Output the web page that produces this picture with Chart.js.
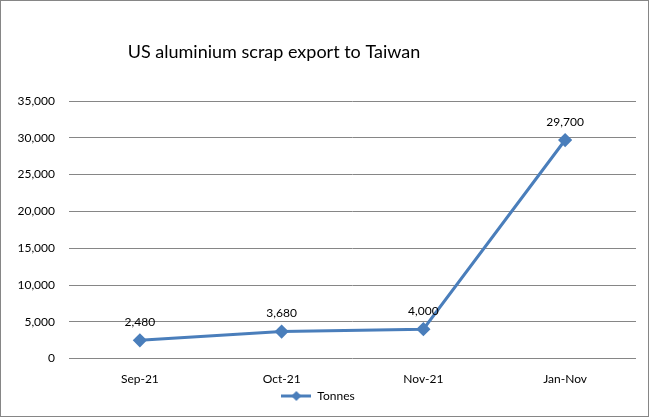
<!DOCTYPE html>
<html><head><meta charset="utf-8">
<script src="https://cdn.jsdelivr.net/npm/chart.js@4"></script>
<style>html,body{margin:0;padding:0;background:#fff}#wrap{width:649px;height:417px;position:relative}</style>
</head><body><div id="wrap"><canvas id="c" width="649" height="417"></canvas></div>
<script>
const categories = ["Sep-21", "Oct-21", "Nov-21", "Jan-Nov"];
const tonnes = [2480, 3680, 4000, 29700];
const seriesName = "Tonnes";
const titleText = "US aluminium scrap export to Taiwan";
const FONT = "Lato, 'Open Sans', sans-serif";
const LINE = "#4a7ebb";

function legendIcon(){
  const c = document.createElement('canvas'); c.width = 30; c.height = 12;
  const x = c.getContext('2d');
  x.strokeStyle = LINE; x.lineWidth = 3; x.beginPath(); x.moveTo(0,6); x.lineTo(30,6); x.stroke();
  x.fillStyle = LINE; x.beginPath(); x.moveTo(15,1); x.lineTo(20,6); x.lineTo(15,11); x.lineTo(10,6); x.closePath(); x.fill();
  return c;
}

const framePlugin = {
  id:'frame',
  beforeDraw(chart){
    const ctx = chart.ctx; ctx.save();
    ctx.fillStyle='#fff'; ctx.fillRect(0,0,chart.width,chart.height);
    ctx.restore();
  },
  afterDraw(chart){
    const ctx = chart.ctx; ctx.save();
    ctx.strokeStyle='#868686'; ctx.lineWidth=1;
    ctx.strokeRect(0.5,0.5,chart.width-1,chart.height-1);
    ctx.fillStyle='#000'; ctx.font = "18px " + FONT; ctx.textAlign='center'; ctx.textBaseline='middle';
    ctx.fillText(titleText, 274, 52);
    const meta = chart.getDatasetMeta(0);
    ctx.font = "12px " + FONT; ctx.textBaseline='middle';
    meta.data.forEach((p,i)=>{
      ctx.fillText(tonnes[i].toLocaleString('en-US'), p.x, p.y-18);
    });
    ctx.restore();
  }
};

new Chart(document.getElementById('c'), {
  type:'line',
  data:{labels:categories, datasets:[{label:seriesName, data:tonnes, borderColor:LINE, backgroundColor:LINE,
    borderWidth:3, pointStyle:'rectRot', pointRadius:5, pointHoverRadius:5, tension:0, fill:false}]},
  options:{
    responsive:false, animation:false, devicePixelRatio:1,
    layout:{padding:{top:101, right:13, left:0, bottom:5}},
    plugins:{
      title:{display:false}, tooltip:{enabled:false},
      legend:{position:'bottom', labels:{usePointStyle:true, pointStyle:legendIcon(), pointStyleWidth:30, boxHeight:12,
        color:'#000', font:{family:FONT, size:12}, padding:0}}
    },
    scales:{
      x:{grid:{display:false, drawTicks:false}, border:{display:false},
        afterFit(s){s.height -= 9;},
        ticks:{color:'#000', font:{family:FONT, size:12}, padding:13},
        offset:true},
      y:{min:0, max:35000, afterFit(s){s.width=69;},
        grid:{color:'#868686', drawTicks:false, lineWidth:1}, border:{display:false},
        ticks:{stepSize:5000, color:'#000', font:{family:FONT, size:12}, padding:14,
          callback:v=>v.toLocaleString('en-US')}}
    }
  },
  plugins:[framePlugin]
});
</script></body></html>
